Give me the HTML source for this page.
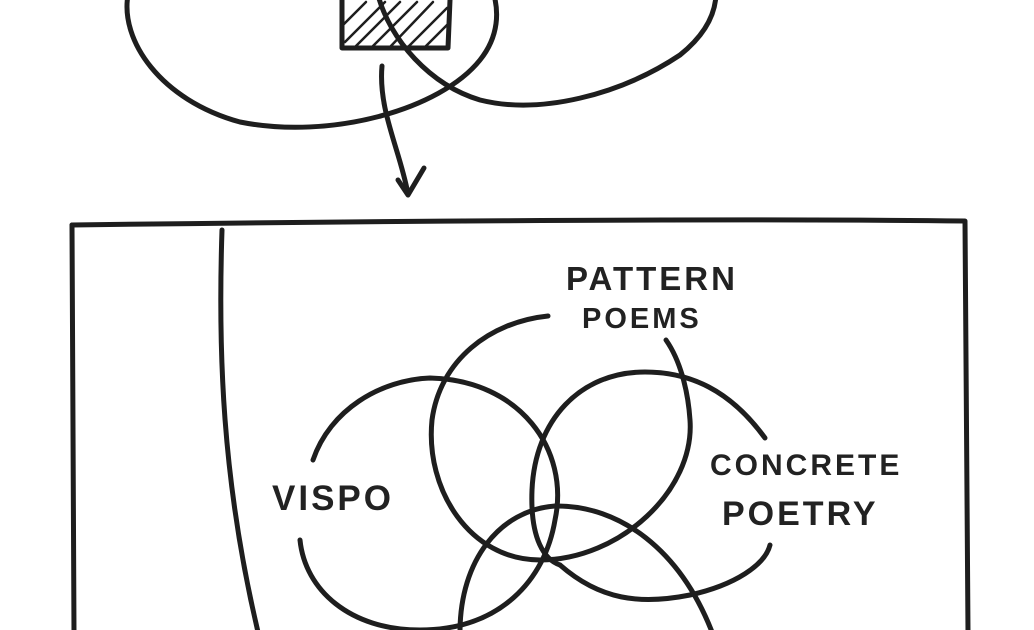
<!DOCTYPE html>
<html><head><style>
html,body{margin:0;padding:0;background:#fff;}
svg{display:block}
text{font-family:"Liberation Sans",sans-serif;font-weight:bold;fill:#222;letter-spacing:3px}
</style></head><body>
<svg width="1034" height="630" viewBox="0 0 1034 630" xmlns="http://www.w3.org/2000/svg">
<g fill="none" stroke="#1e1e1e" stroke-width="5" stroke-linecap="round" stroke-linejoin="round">
<path d="M128,-5 C120,40 160,100 240,122 C330,140 440,110 480,60 C500,35 498,10 494,-5"/>
<path d="M378,-5 C390,40 430,85 480,100 C540,115 620,95 680,55 C705,35 715,15 716,-5"/>
<path d="M342,0 L342,48 L448,48 L450,0"/>
<g stroke-width="2.5">
<path d="M345,42 L385,2"/><path d="M355,47 L400,2"/><path d="M372,47 L417,2"/><path d="M390,47 L433,2"/><path d="M408,47 L447,8"/><path d="M425,47 L448,24"/><path d="M343,25 L366,2"/>
</g>
<path d="M382,66 C378,110 400,150 408,194"/>
<path d="M398,180 L408,195 L424,168"/>
<path d="M72,225 C300,222 700,218 965,221 L968,632"/>
<path d="M72,225 L74,632"/>
<path d="M222,230 C218,350 222,480 258,632"/>
<path d="M548,316 C490,322 440,360 432,420 C425,490 470,560 540,560 C620,560 695,490 690,420 C688,390 680,360 666,340"/>
<path d="M313,460 C330,410 380,380 430,378 C520,380 570,450 555,520 C545,580 500,630 420,630 C350,630 305,590 300,540"/>
<path d="M765,438 C730,390 690,372 645,372 C580,372 535,420 532,490 C530,540 545,560 560,565"/>
<path d="M560,565 C600,600 640,605 690,595 C735,585 765,565 770,545"/>
<path d="M460,632 C460,560 500,510 555,506 C620,505 680,550 712,632"/>
</g>
<text x="566" y="290" font-size="33">PATTERN</text>
<text x="582" y="328" font-size="29">POEMS</text>
<text x="272" y="510" font-size="35">VISPO</text>
<text x="710" y="475" font-size="30">CONCRETE</text>
<text x="722" y="525" font-size="34">POETRY</text>
</svg>
</body></html>
